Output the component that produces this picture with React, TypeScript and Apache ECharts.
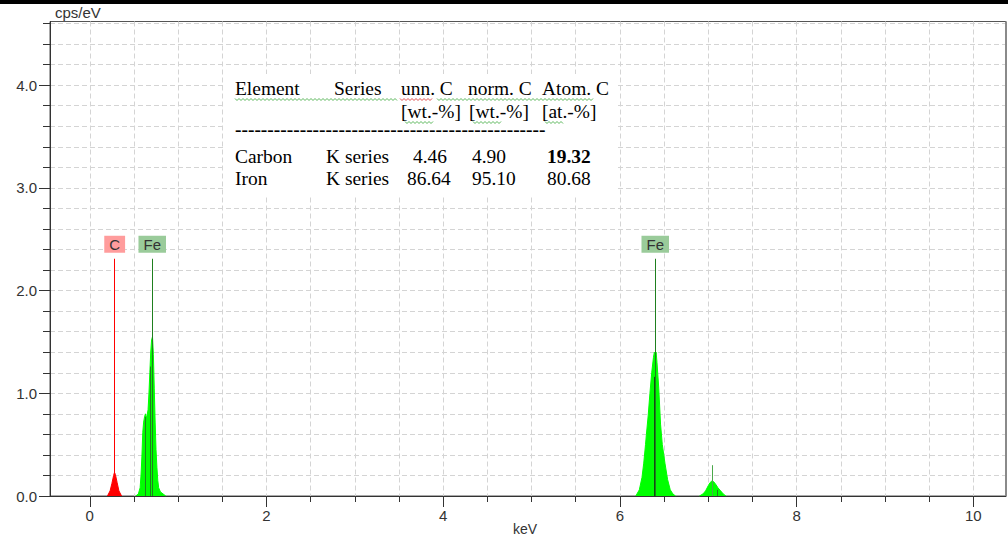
import React, { useEffect, useRef } from 'react';
import * as echarts from 'echarts';

// ---- axis ticks / labels ----
const xTickValues = [0, 0.5, 1, 1.5, 2, 2.5, 3, 3.5, 4, 4.5, 5, 5.5, 6, 6.5, 7, 7.5, 8, 8.5, 9, 9.5, 10];
const xLabelValues = [0, 2, 4, 6, 8, 10];
const yTickValues = [0, 0.2, 0.4, 0.6, 0.8, 1, 1.2, 1.4, 1.6, 1.8, 2, 2.2, 2.4, 2.6, 2.8, 3, 3.2, 3.4, 3.6, 3.8, 4, 4.2, 4.4, 4.6];
const yLabelValues = [0, 1, 2, 3, 4];
const xMin = -0.45;
const xMax = 10.37;
const yMin = 0;
const yMax = 4.62;
const yUnit = 'cps/eV';
const xUnit = 'keV';

// ---- spectrum (keV, cps/eV) ----
const carbonKeV = [0.2, 0.23, 0.25, 0.27, 0.28, 0.29, 0.31, 0.33, 0.36];
const carbonCps = [0, 0.05, 0.12, 0.2, 0.23, 0.21, 0.13, 0.05, 0];

const ironLKeV = [0.52, 0.55, 0.57, 0.58, 0.59, 0.6, 0.61, 0.62, 0.63, 0.64, 0.65, 0.66, 0.67, 0.68, 0.69, 0.7, 0.71, 0.72, 0.73, 0.74, 0.75, 0.76, 0.77, 0.78, 0.8, 0.83, 0.86];
const ironLCps = [0, 0.02, 0.08, 0.2, 0.38, 0.62, 0.72, 0.77, 0.8, 0.76, 0.79, 0.84, 1.0, 1.2, 1.4, 1.52, 1.55, 1.38, 1.05, 0.72, 0.45, 0.28, 0.15, 0.08, 0.04, 0.02, 0];

const ironKaKeV = [6.18, 6.22, 6.25, 6.27, 6.29, 6.3, 6.32, 6.34, 6.36, 6.38, 6.39, 6.4, 6.41, 6.42, 6.44, 6.46, 6.48, 6.51, 6.54, 6.57, 6.6, 6.63];
const ironKaCps = [0, 0.06, 0.18, 0.32, 0.5, 0.6, 0.78, 1.0, 1.2, 1.35, 1.4, 1.36, 1.4, 1.3, 1.05, 0.7, 0.5, 0.32, 0.16, 0.06, 0.02, 0];

const ironKbKeV = [6.9, 6.94, 6.97, 7.0, 7.02, 7.04, 7.06, 7.08, 7.11, 7.14, 7.17, 7.2];
const ironKbCps = [0, 0.02, 0.05, 0.1, 0.13, 0.145, 0.14, 0.12, 0.08, 0.05, 0.02, 0];

// ---- element line markers ----
const markerKeV = [0.282, 0.707, 6.4];
const markerNames = ['C', 'Fe', 'Fe'];
const markerTop = 2.31;
const ironSubKeV = [0.633, 0.689, 6.39, 7.1];
const ironSubCps = [0.77, 1.26, 1.16, 0.06];
const ironKbLineKeV = 7.05;
const ironKbLineCps = 0.3;

// ---- quantification table ----
const tableHeader = ['Element', 'Series', 'unn. C', 'norm. C', 'Atom. C'];
const tableUnits = ['[wt.-%]', '[wt.-%]', '[at.-%]'];
const tableRule = '------------------------------------------------';
const tableRows = [
  ['Carbon', 'K series', '4.46', '4.90', '19.32'],
  ['Iron', 'K series', '86.64', '95.10', '80.68'],
];

const SANS = '"Liberation Sans", Arial, sans-serif';
const SERIF = '"Liberation Serif", "Times New Roman", serif';
const GREEN = '#00ff00';
const RED = '#ff0000';
const FE_LINE = '#1f7f1f';

function pairs(xs: number[], ys: number[]) {
  return xs.map((x, i) => [x, ys[i]]);
}

function markerLabel(name: string) {
  const isC = name === 'C';
  return {
    show: true,
    position: 'end',
    formatter: name,
    distance: 6,
    color: '#333',
    fontFamily: SANS,
    fontSize: 15,
    lineHeight: 15,
    backgroundColor: isC ? '#ff9c9c' : '#9acb9a',
    padding: [1, 5, 1, 5],
  };
}

function mainMarker(i: number, color: string) {
  return [
    { coord: [markerKeV[i], 0], lineStyle: { color, width: 1, type: 'solid' }, label: markerLabel(markerNames[i]) },
    { coord: [markerKeV[i], markerTop] },
  ];
}

function subMarker(x: number, h: number, color: string) {
  return [
    { coord: [x, 0], lineStyle: { color, width: 1, type: 'solid' }, label: { show: false } },
    { coord: [x, h] },
  ];
}

function areaSeries(name: string, data: number[][], color: string, markData: any[]) {
  return {
    type: 'line',
    name,
    data,
    symbol: 'none',
    silent: true,
    xAxisIndex: 0,
    yAxisIndex: 0,
    z: 3,
    lineStyle: { color, width: 1 },
    itemStyle: { color },
    areaStyle: { color, opacity: 1 },
    markLine: {
      silent: true,
      symbol: 'none',
      animation: false,
      data: markData,
    },
  };
}

function wavy(x1: number, x2: number, y: number, color: string) {
  const pts: number[][] = [];
  let i = 0;
  for (let x = x1; x <= x2; x += 2, i++) pts.push([x, y + (i % 2 ? 1 : -1)]);
  return { type: 'polyline', shape: { points: pts }, style: { stroke: color, lineWidth: 1, fill: null }, z: 102, silent: true };
}

function tableText(text: string, x: number, y: number, bold = false) {
  return {
    type: 'text',
    x,
    y,
    scaleX: 1.08,
    z: 101,
    silent: true,
    style: {
      text,
      fill: '#000',
      font: `${bold ? 'bold ' : ''}18px ${SERIF}`,
      verticalAlign: 'middle',
      align: 'left',
    },
  };
}

export default function App() {
  const ref = useRef<HTMLDivElement>(null);

  useEffect(() => {
    if (!ref.current) return;
    const chart = echarts.init(ref.current, null, { renderer: 'svg' });

    const headerX = [235, 334, 401, 468, 542];
    const unitX = [401, 469, 542];
    const rowX = [
      [235, 326, 413, 472, 547],
      [235, 326, 407, 472, 547],
    ];
    const rowY = [157, 179];

    const graphics: any[] = [
      { type: 'rect', shape: { x: 226, y: 74, width: 392, height: 121 }, style: { fill: '#fff' }, z: 100, silent: true },
      ...tableHeader.map((t, i) => tableText(t, headerX[i], 89)),
      ...tableUnits.map((t, i) => tableText(t, unitX[i], 112)),
      { ...tableText(tableRule, 235, 130, true) },
      ...tableRows.flatMap((row, r) => row.map((t, c) => tableText(t, rowX[r][c], rowY[r], r === 0 && c === 4))),
      wavy(235, 397, 99.5, '#5cb85c'),
      wavy(400, 433, 99.5, '#e05050'),
      wavy(437, 593, 99.5, '#5cb85c'),
      wavy(405, 433, 122.5, '#5cb85c'),
      wavy(473, 502, 122.5, '#5cb85c'),
      wavy(545, 563, 122.5, '#5cb85c'),
      { type: 'line', shape: { x1: 1006, y1: 21.5, x2: 1006, y2: 496 }, style: { stroke: '#8a8a8a', lineWidth: 2 }, z: 50, silent: true },
      { type: 'text', x: 55, y: 12, z: 60, silent: true, style: { text: yUnit, fill: '#333', font: `15px ${SANS}`, verticalAlign: 'middle', align: 'left' } },
      { type: 'text', x: 513, y: 522, z: 60, silent: true, style: { text: xUnit, fill: '#333', font: `14px ${SANS}`, verticalAlign: 'top', align: 'left' } },
      { type: 'rect', shape: { x: 0, y: 0, width: 1008, height: 4 }, style: { fill: '#000' }, z: 200, silent: true },
    ];

    const option: any = {
      animation: false,
      backgroundColor: '#fff',
      grid: { left: 50, top: 21.5, right: 2, bottom: 44, show: true, borderColor: '#555', borderWidth: 1, backgroundColor: 'transparent' },
      xAxis: [
        {
          type: 'value', min: xMin, max: xMax, position: 'bottom',
          axisLine: { show: true, onZero: false, lineStyle: { color: '#333', width: 1 } },
          axisTick: { show: true, customValues: xTickValues, length: 6, lineStyle: { color: '#333' } },
          axisLabel: { show: false },
          splitLine: { show: true, lineStyle: { color: '#d4d4d4', type: [5, 3], width: 1 } },
        },
        {
          type: 'value', min: xMin, max: xMax, position: 'bottom',
          axisLine: { show: false, onZero: false },
          axisTick: { show: true, customValues: xLabelValues, length: 11, lineStyle: { color: '#333' } },
          axisLabel: { show: true, customValues: xLabelValues, margin: 12, color: '#333', fontSize: 15, fontFamily: SANS },
          splitLine: { show: false },
        },
      ],
      yAxis: [
        {
          type: 'value', min: yMin, max: yMax, position: 'left',
          axisLine: { show: true, onZero: false, lineStyle: { color: '#333', width: 1 } },
          axisTick: { show: true, customValues: yTickValues, length: 7, lineStyle: { color: '#333' } },
          axisLabel: { show: false },
          splitLine: { show: true, lineStyle: { color: '#d4d4d4', type: [5, 3], width: 1 } },
        },
        {
          type: 'value', min: yMin, max: yMax, position: 'left',
          axisLine: { show: false, onZero: false },
          axisTick: { show: true, customValues: yLabelValues, length: 11, lineStyle: { color: '#333' } },
          axisLabel: {
            show: true, customValues: yLabelValues, margin: 13, color: '#333', fontSize: 15, fontFamily: SANS,
            formatter: (v: number) => v.toFixed(1),
          },
          splitLine: { show: false },
        },
      ],
      series: [
        areaSeries('C', pairs(carbonKeV, carbonCps), RED, [mainMarker(0, RED)]),
        areaSeries('Fe L', pairs(ironLKeV, ironLCps), GREEN, [
          mainMarker(1, FE_LINE),
          subMarker(ironSubKeV[0], ironSubCps[0], FE_LINE),
          subMarker(ironSubKeV[1], ironSubCps[1], FE_LINE),
        ]),
        areaSeries('Fe Ka', pairs(ironKaKeV, ironKaCps), GREEN, [
          mainMarker(2, FE_LINE),
          subMarker(ironSubKeV[2], ironSubCps[2], '#0f4f0f'),
        ]),
        areaSeries('Fe Kb', pairs(ironKbKeV, ironKbCps), GREEN, [
          subMarker(ironKbLineKeV, ironKbLineCps, '#4aa84a'),
          subMarker(ironSubKeV[3], ironSubCps[3], FE_LINE),
        ]),
      ],
      graphic: graphics,
    };

    chart.setOption(option);
    return () => chart.dispose();
  }, []);

  return <div ref={ref} style={{ position: 'fixed', left: 0, top: 0, width: 1008, height: 540, background: '#fff' }} />;
}
